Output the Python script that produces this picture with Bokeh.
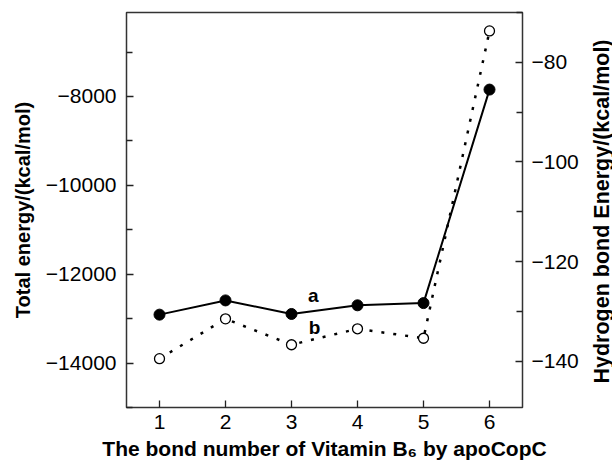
import math
from bokeh.plotting import figure
from bokeh.layouts import row
from bokeh.models import Range1d, LinearAxis, FixedTicker, Label
from bokeh.embed import file_html
from bokeh.resources import INLINE

bond_number = [1, 2, 3, 4, 5, 6]
total_energy = [-12910, -12590, -12895, -12700, -12650, -7845]
hbond_energy = [-139.5, -131.5, -136.7, -133.5, -135.4, -73.7]

left_major = [-14000, -12000, -10000, -8000]
left_minor = [-15000, -13000, -11000, -9000, -7000]
right_major = [-140, -120, -100, -80]
right_minor = [-150, -130, -110, -90, -70]

FONT = "Liberation Sans"

p = figure(frame_width=396, frame_height=395, output_backend="svg", toolbar_location=None,
           x_range=Range1d(0.5, 6.5), y_range=Range1d(-15000, -6110),
           min_border_left=126, min_border_right=62, min_border_top=12, min_border_bottom=50)
p.extra_y_ranges = {"hb": Range1d(-149.3, -70)}
p.xgrid.visible = False
p.ygrid.visible = False
p.background_fill_color = "white"
p.border_fill_color = "white"
p.outline_line_color = "#333333"
p.outline_line_width = 1.5

def style(ax, fmt_vals):
    ax.axis_line_color = None
    ax.major_tick_in = 7
    ax.major_tick_out = 0
    ax.minor_tick_in = 6
    ax.minor_tick_out = 0
    ax.major_tick_line_color = "#222222"
    ax.minor_tick_line_color = "#222222"
    ax.major_tick_line_width = 1.3
    ax.minor_tick_line_width = 1.3
    ax.major_label_text_font = FONT
    ax.major_label_text_font_size = "21px"
    ax.major_label_text_color = "black"
    ax.axis_label_text_font = FONT
    ax.axis_label_text_font_style = "bold"
    ax.axis_label_text_font_size = "20px"
    ax.axis_label_text_color = "black"
    ax.major_label_overrides = {v: str(v).replace("-", "\u2212") for v in fmt_vals}

xa = p.xaxis[0]
xa.ticker = FixedTicker(ticks=bond_number)
style(xa, bond_number)
xa.axis_label = "The bond number of Vitamin B\u2086 by apoCopC"
xa.axis_label_text_font_size = "21px"
xa.major_label_standoff = 7
xa.axis_label_standoff = 5

ya = p.yaxis[0]
ya.ticker = FixedTicker(ticks=left_major, minor_ticks=left_minor)
style(ya, left_major)
ya.axis_label = "Total energy/(kcal/mol)"
ya.major_label_standoff = 10
ya.axis_label_standoff = 9

ra = LinearAxis(y_range_name="hb")
ra.ticker = FixedTicker(ticks=right_major, minor_ticks=right_minor)
style(ra, right_major)
ra.major_label_standoff = 9
p.add_layout(ra, "right")

p.line(bond_number, total_energy, line_color="black", line_width=2)
p.scatter(bond_number, total_energy, size=11, fill_color="black", line_color="black")

p.line(bond_number, hbond_energy, y_range_name="hb", line_color="black", line_width=2.5,
       line_dash="3 9")
p.scatter(bond_number, hbond_energy, y_range_name="hb", size=10, fill_color="white",
          line_color="black", line_width=1.3)

p.add_layout(Label(x=3.33, y=-12490, text="a", text_font=FONT, text_font_style="bold",
                   text_color="black", text_font_size="19px", text_align="center",
                   text_baseline="middle"))
p.add_layout(Label(x=3.35, y=-13200, text="b", text_font=FONT, text_font_style="bold",
                   text_color="black", text_font_size="19px", text_align="center",
                   text_baseline="middle"))

# narrow side panel carrying the right-hand axis title (reads bottom-to-top)
p2 = figure(frame_width=28, frame_height=395, output_backend="svg", toolbar_location=None,
            x_range=Range1d(0, 28), y_range=Range1d(0, 395),
            x_axis_location=None, y_axis_location=None, min_border=0,
            min_border_left=0, min_border_right=0, min_border_top=12, min_border_bottom=0)
p2.xgrid.visible = False
p2.ygrid.visible = False
p2.outline_line_color = None
p2.background_fill_color = "white"
p2.border_fill_color = "white"
p2.add_layout(Label(x=17, y=196, text="Hydrogen bond Energy/(kcal/mol)", angle=math.pi / 2,
                    text_font=FONT, text_font_style="bold", text_color="black",
                    text_font_size="21.5px", text_align="center", text_baseline="middle"))

layout = row(p, p2)
open("out.html", "w").write(file_html(layout, INLINE))
